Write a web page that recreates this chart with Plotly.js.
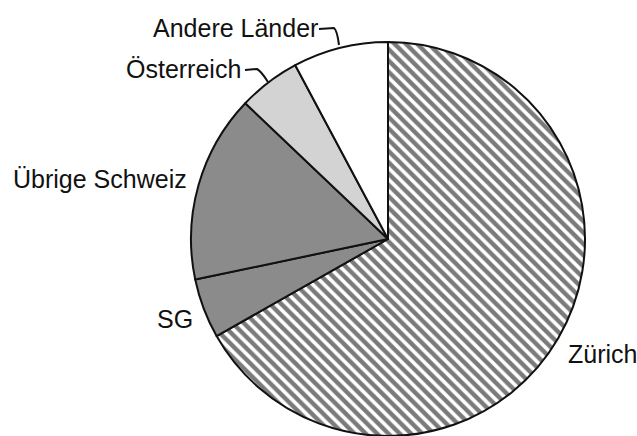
<!DOCTYPE html>
<html>
<head>
<meta charset="utf-8">
<script src="https://cdn.plot.ly/plotly-3.0.1.min.js"></script>
<style>html,body{margin:0;padding:0;background:#fff;}#chart{width:637px;height:436px;}</style>
</head>
<body>
<div id="chart"></div>
<script>
const labels = ["Zürich", "SG", "Übrige Schweiz", "Österreich", "Andere Länder"];
const values = [66.8, 4.9, 15.4, 5.1, 7.8];
const fills = ["#ffffff", "#8b8b8b", "#8b8b8b", "#d3d3d3", "#ffffff"];
const patterns = ["\\", "", "", "", ""];

const W = 637, H = 436;
const px = x => x / W;
const py = y => 1 - y / H;

const labelPos = [
  {x: 566, y: 354},
  {x: 155, y: 319},
  {x: 11, y: 179},
  {x: 124, y: 69},
  {x: 151, y: 28}
];

const annotations = labels.map((t, i) => ({
  text: t, xref: "paper", yref: "paper",
  x: px(labelPos[i].x), y: py(labelPos[i].y),
  xanchor: "left", yanchor: "middle",
  showarrow: false,
  font: {family: "Liberation Sans, Arial, sans-serif", size: 25, color: "#111111"}
}));

const shapes = [
  {type: "path", xref: "paper", yref: "paper",
   path: `M ${px(319)} ${py(29)} L ${px(334)} ${py(28)} Q ${px(337)} ${py(30)} ${px(339)} ${py(45)}`,
   line: {color: "#111", width: 2}},
  {type: "path", xref: "paper", yref: "paper",
   path: `M ${px(245)} ${py(70)} L ${px(257)} ${py(69)} Q ${px(261)} ${py(71)} ${px(268)} ${py(82)}`,
   line: {color: "#111", width: 2}}
];

const data = [{
  type: "pie",
  labels: labels,
  values: values,
  sort: false,
  direction: "clockwise",
  rotation: 0,
  textinfo: "none",
  hoverinfo: "label+percent",
  marker: {
    colors: fills,
    line: {color: "#111111", width: 2},
    pattern: {shape: patterns, fgcolor: "#7a7a7a", bgcolor: fills, size: 8, solidity: 0.55}
  },
  domain: {x: [px(388 - 197), px(388 + 197)], y: [0, 394 / H]},
  showlegend: false
}];

const layout = {
  width: W, height: H,
  margin: {l: 0, r: 0, t: 0, b: 0},
  paper_bgcolor: "#ffffff",
  plot_bgcolor: "#ffffff",
  showlegend: false,
  annotations: annotations,
  shapes: shapes
};

Plotly.newPlot("chart", data, layout, {displayModeBar: false, staticPlot: true});
</script>
</body>
</html>
